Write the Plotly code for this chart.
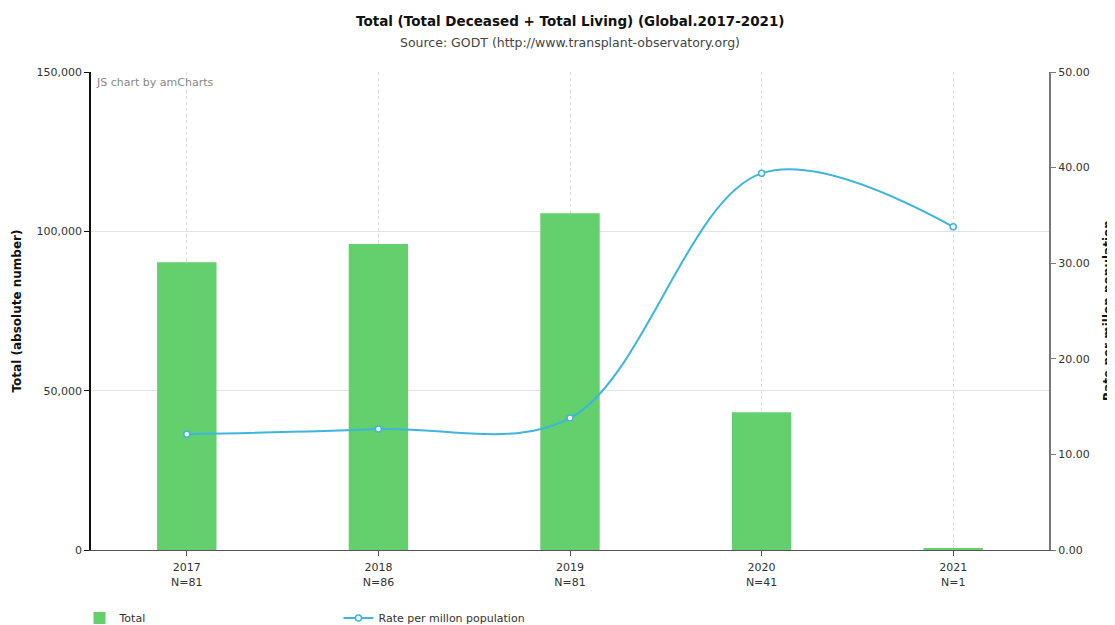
import plotly.graph_objects as go

years = ["2017", "2018", "2019", "2020", "2021"]
n_countries = [81, 86, 81, 41, 1]
totals = [90300, 96000, 105700, 43200, 600]
rates = [12.1, 12.65, 13.8, 39.4, 33.8]

cats = [f"{y}<br>N={n}" for y, n in zip(years, n_countries)]

FONT = "DejaVu Sans"
OFF = 8  # page body margin of the browser
W, H = 1115 - OFF, 625 - OFF
# reference plot area in page pixels: x 91..1049, y 72..550
L, R, T, B = 91 - OFF, 1115 - 1049, 72 - OFF, 625 - 550
PW, PH = W - L - R, H - T - B


def py(page_y):
    return (H - B - (page_y - OFF)) / PH


def px(page_x):
    return (page_x - OFF - L) / PW


fig = go.Figure()
fig.add_trace(go.Bar(
    x=cats, y=totals, name="Total",
    marker=dict(color="#63CF6D", line=dict(width=0)),
    width=0.31, yaxis="y",
))
fig.add_trace(go.Scatter(
    x=cats, y=rates, name="Rate per millon population",
    mode="lines+markers", yaxis="y2",
    line=dict(color="#3DB5DC", width=2, shape="spline", smoothing=1.0),
    marker=dict(symbol="circle", size=6, color="white",
                line=dict(color="#3DB5DC", width=1.5)),
))

fig.update_layout(
    width=W, height=H,
    margin=dict(l=L, r=R, t=T, b=B, autoexpand=False),
    paper_bgcolor="white", plot_bgcolor="white",
    font=dict(family=FONT, size=11, color="#333"),
    xaxis=dict(
        type="category", range=[-0.5, 4.5], automargin=False,
        showline=True, linecolor="#555", linewidth=1,
        ticks="outside", ticklen=5, tickcolor="#555",
        showgrid=True, gridcolor="#ddd", griddash="dot", gridwidth=1,
        tickfont=dict(size=11, color="#333"), ticklabelstandoff=2,
        zeroline=False,
    ),
    yaxis=dict(
        range=[0, 150000], tickvals=[0, 50000, 100000, 150000], automargin=False,
        tickformat=",", showline=True, linecolor="#111", linewidth=1.5,
        ticks="outside", ticklen=5, tickcolor="#111",
        showgrid=True, gridcolor="#e3e3e3", gridwidth=1, zeroline=False,
        title=dict(text="<b>Total (absolute number)</b>", font=dict(size=12, color="#111"), standoff=12),
        tickfont=dict(size=11, color="#333"),
    ),
    yaxis2=dict(
        overlaying="y", side="right", range=[0, 50], automargin=False,
        tickvals=[0, 10, 20, 30, 40, 50], tickformat=".2f",
        showline=True, linecolor="#777", linewidth=2,
        ticks="outside", ticklen=5, tickcolor="#777",
        showgrid=False, zeroline=False,
        tickfont=dict(size=11, color="#333"),
    ),
    legend=dict(
        orientation="h", x=-0.012, xanchor="left",
        yref="container", y=(625 - 618) / H, yanchor="middle",
        entrywidth=214, entrywidthmode="pixels",
        font=dict(size=11, color="#333"), itemwidth=30,
        traceorder="normal",
    ),
    showlegend=True,
)

fig.add_annotation(
    text="<b>Total (Total Deceased + Total Living) (Global.2017-2021)</b>",
    xref="paper", yref="paper", x=0.5, y=py(21), xanchor="center", yanchor="middle",
    showarrow=False, font=dict(size=13.5, color="#111"),
)
fig.add_annotation(
    text="Source: GODT (http://www.transplant-observatory.org)",
    xref="paper", yref="paper", x=0.5, y=py(42), xanchor="center", yanchor="middle",
    showarrow=False, font=dict(size=12.5, color="#444"),
)
fig.add_annotation(
    text="JS chart by amCharts", xref="paper", yref="paper",
    x=px(94), y=py(74), xanchor="left", yanchor="top", showarrow=False,
    font=dict(size=11, color="#888"),
)
fig.add_annotation(
    text="<b>Rate per millon population</b>", xref="paper", yref="paper",
    x=px(1108), y=0.5, xanchor="center", yanchor="middle",
    textangle=-90, showarrow=False,
    font=dict(size=12, color="#111"),
)

fig.write_html("out.html")
